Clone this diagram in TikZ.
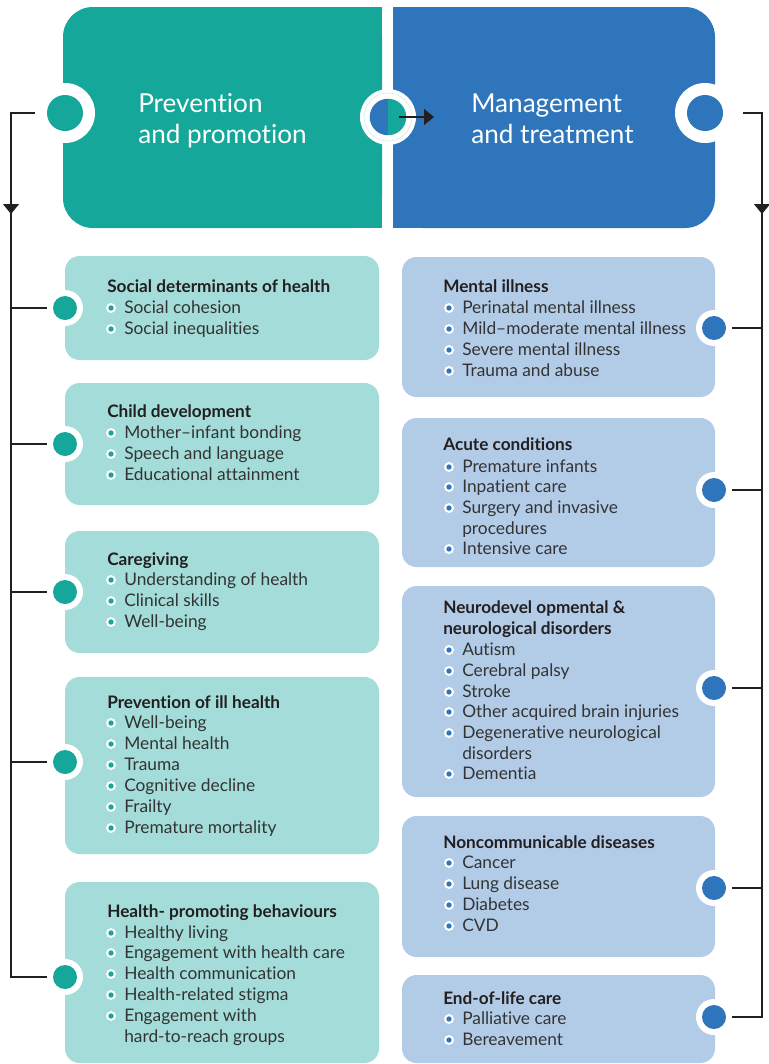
\documentclass[tikz,border=0pt]{standalone}
\usepackage{fontspec}
\setmainfont{Lato}[Ligatures=CommonOff]
\usetikzlibrary{arrows.meta}
\definecolor{hteal}{HTML}{14A79A}
\definecolor{hblue}{HTML}{2E75BB}
\definecolor{lteal}{HTML}{A3DCD8}
\definecolor{lblue}{HTML}{B2CCE8}
\definecolor{ink}{HTML}{231F20}
\definecolor{itemink}{HTML}{333333}
\definecolor{pale}{HTML}{D3ECEE}
\newcounter{itm}
\newcommand{\myitem}[4]{\stepcounter{itm}%
 \node[dotring] (r\arabic{itm}) at (#1,#2-5) {};
 \node[dotin,fill=#4] (d\arabic{itm}) at (r\arabic{itm}) {};
 \node[itemtxt] (t\arabic{itm}) at (#1+13,#2) {#3};}
\newcommand{\mycont}[3]{\stepcounter{itm}%
 \node[itemtxt] (t\arabic{itm}) at (#1+13,#2) {#3};}
\begin{document}
\begin{tikzpicture}[x=0.75pt,y=-0.75pt,
  hdrtxt/.style={anchor=base west,inner sep=0pt,text=white,font=\fontsize{19.6pt}{23pt}\selectfont},
  boxtitle/.style={anchor=base west,inner sep=0pt,text=ink,font=\bfseries\fontsize{12.9pt}{15pt}\selectfont},
  itemtxt/.style={anchor=base west,inner sep=0pt,text=itemink,font=\fontsize{13pt}{15pt}\selectfont},
  dotring/.style={circle,fill=white,minimum size=7.5pt,inner sep=0pt},
  dotin/.style={circle,minimum size=4pt,inner sep=0pt},
  bigring/.style={circle,fill=white,minimum size=45pt,inner sep=0pt},
  bigdot/.style={circle,minimum size=27pt,inner sep=0pt},
  smring/.style={circle,fill=white,minimum size=27pt,inner sep=0pt},
  smdot/.style={circle,minimum size=18pt,inner sep=0pt},
  conn/.style={draw=ink,line width=0.9pt},
  tbox/.style={fill=lteal,rounded corners=11pt},
  bbox/.style={fill=lblue,rounded corners=11pt},
  tip/.style={-{Triangle[length=7.5pt,width=12pt]}}
]
\fill[white] (0,0) rectangle (768,1064);
\useasboundingbox (0,0) rectangle (768,1064);

% header panels
\fill[hteal,rounded corners=22.5pt] (63,7) rectangle (382,228);
\fill[hteal] (250,7) rectangle (382,228);
\fill[hblue,rounded corners=22.5pt] (393,7) rectangle (715,228);
\fill[hblue] (393,7) rectangle (520,228);

\node[hdrtxt] (ht1) at (138,112) {Prevention};
\node[hdrtxt] (ht2) at (138,143) {and promotion};
\node[hdrtxt] (ht3) at (471,112) {Management};
\node[hdrtxt] (ht4) at (471,143) {and treatment};

% left boxes
\path[tbox] (65,256) rectangle (379,360);
\path[tbox] (65,383) rectangle (379,505);
\path[tbox] (65,531) rectangle (379,653);
\path[tbox] (65,677) rectangle (379,854);
\path[tbox] (65,882) rectangle (379,1063);
% right boxes
\path[bbox] (402,257) rectangle (715,397);
\path[bbox] (402,418) rectangle (715,567);
\path[bbox] (402,586) rectangle (715,797);
\path[bbox] (402,816) rectangle (715,957);
\path[bbox] (402,975) rectangle (715,1063);

% trunk coordinates
\coordinate (LT) at (11,113);
\coordinate (LA) at (11,214);
\coordinate (LB) at (11,977);
\coordinate (RT) at (762,113);
\coordinate (RA) at (762,214);
\coordinate (RB) at (762,1017);
\coordinate (MA) at (434,117);

% header rings
\node[bigring] (hl) at (65,113) {};
\node[bigdot,fill=hteal] (hld) at (hl) {};
\node[bigring] (hr) at (705,113) {};
\node[bigdot,fill=hblue] (hrd) at (hr) {};
\node[circle,fill=white,minimum size=42pt,inner sep=0pt] (hm) at (388,117) {};
\draw[pale,line width=0.5pt] (hm.center) circle[radius=18pt];
\fill[hblue] (hm.center) -- ++(90:13.7pt) arc[start angle=90,end angle=270,radius=13.7pt] -- cycle;
\fill[hteal] (hm.center) -- ++(-90:13.7pt) arc[start angle=-90,end angle=90,radius=13.7pt] -- cycle;
\draw[conn,tip] ([xshift=8pt]hm.center) -- (MA);

% left box rings
\node[smring] (lr1) at (65,308) {}; \node[smdot,fill=hteal] (ld1) at (lr1) {};
\node[smring] (lr2) at (65,444) {}; \node[smdot,fill=hteal] (ld2) at (lr2) {};
\node[smring] (lr3) at (65,592) {}; \node[smdot,fill=hteal] (ld3) at (lr3) {};
\node[smring] (lr4) at (65,762) {}; \node[smdot,fill=hteal] (ld4) at (lr4) {};
\node[smring] (lr5) at (65,977) {}; \node[smdot,fill=hteal] (ld5) at (lr5) {};
% right box rings
\node[smring] (rr1) at (714,328) {}; \node[smdot,fill=hblue] (rd1) at (rr1) {};
\node[smring] (rr2) at (714,490) {}; \node[smdot,fill=hblue] (rd2) at (rr2) {};
\node[smring] (rr3) at (714,688) {}; \node[smdot,fill=hblue] (rd3) at (rr3) {};
\node[smring] (rr4) at (714,888) {}; \node[smdot,fill=hblue] (rd4) at (rr4) {};
\node[smring] (rr5) at (714,1017) {}; \node[smdot,fill=hblue] (rd5) at (rr5) {};

% connectors left
\draw[conn] (hl.west) -- (LT) -- (LB) -- (lr5.west);
\draw[conn,tip] (LT) -- (LA);
\foreach \n in {1,2,3,4} {\draw[conn] (lr\n.west) -- (lr\n.west -| LT);}
% connectors right
\draw[conn] ([xshift=6pt]hr.east) -- (RT) -- (RB) -- (rr5.east);
\draw[conn,tip] (RT) -- (RA);
\foreach \n in {1,2,3,4} {\draw[conn] (rr\n.east) -- (rr\n.east -| RT);}

% left texts
\node[boxtitle] (lt1) at (107,292) {Social determinants of health};
\myitem{111}{313}{Social cohesion}{hteal}
\myitem{111}{334}{Social inequalities}{hteal}

\node[boxtitle] (lt2) at (107,417) {Child development};
\myitem{111}{438}{Mother–infant bonding}{hteal}
\myitem{111}{459}{Speech and language}{hteal}
\myitem{111}{480}{Educational attainment}{hteal}

\node[boxtitle] (lt3) at (107,565) {Caregiving};
\myitem{111}{585}{Understanding of health}{hteal}
\myitem{111}{606}{Clinical skills}{hteal}
\myitem{111}{627}{Well-being}{hteal}

\node[boxtitle] (lt4) at (107,708) {Prevention of ill health};
\myitem{111}{728}{Well-being}{hteal}
\myitem{111}{749}{Mental health}{hteal}
\myitem{111}{770}{Trauma}{hteal}
\myitem{111}{791}{Cognitive decline}{hteal}
\myitem{111}{812}{Frailty}{hteal}
\myitem{111}{833}{Premature mortality}{hteal}

\node[boxtitle] (lt5) at (107,917) {Health- promoting behaviours};
\myitem{111}{938}{Healthy living}{hteal}
\myitem{111}{958}{Engagement with health care}{hteal}
\myitem{111}{979}{Health communication}{hteal}
\myitem{111}{1000}{Health-related stigma}{hteal}
\myitem{111}{1021}{Engagement with}{hteal}
\mycont{111}{1042}{hard-to-reach groups}

% right texts
\node[boxtitle] (rt1) at (443,292) {Mental illness};
\myitem{449}{313}{Perinatal mental illness}{hblue}
\myitem{449}{334}{Mild–moderate mental illness}{hblue}
\myitem{449}{355}{Severe mental illness}{hblue}
\myitem{449}{376}{Trauma and abuse}{hblue}

\node[boxtitle] (rt2) at (443,450) {Acute conditions};
\myitem{449}{472}{Premature infants}{hblue}
\myitem{449}{492}{Inpatient care}{hblue}
\myitem{449}{513}{Surgery and invasive}{hblue}
\mycont{449}{534}{procedures}
\myitem{449}{554}{Intensive care}{hblue}

\node[boxtitle] (rt3a) at (443,613) {Neurodevel opmental \&};
\node[boxtitle] (rt3b) at (443,634) {neurological disorders};
\myitem{449}{655}{Autism}{hblue}
\myitem{449}{676}{Cerebral palsy}{hblue}
\myitem{449}{697}{Stroke}{hblue}
\myitem{449}{717}{Other acquired brain injuries}{hblue}
\myitem{449}{738}{Degenerative neurological}{hblue}
\mycont{449}{759}{disorders}
\myitem{449}{779}{Dementia}{hblue}

\node[boxtitle] (rt4) at (443,848) {Noncommunicable diseases};
\myitem{449}{868}{Cancer}{hblue}
\myitem{449}{889}{Lung disease}{hblue}
\myitem{449}{910}{Diabetes}{hblue}
\myitem{449}{931}{CVD}{hblue}

\node[boxtitle] (rt5) at (443,1004) {End-of-life care};
\myitem{449}{1024}{Palliative care}{hblue}
\myitem{449}{1045}{Bereavement}{hblue}
\end{tikzpicture}
\end{document}
